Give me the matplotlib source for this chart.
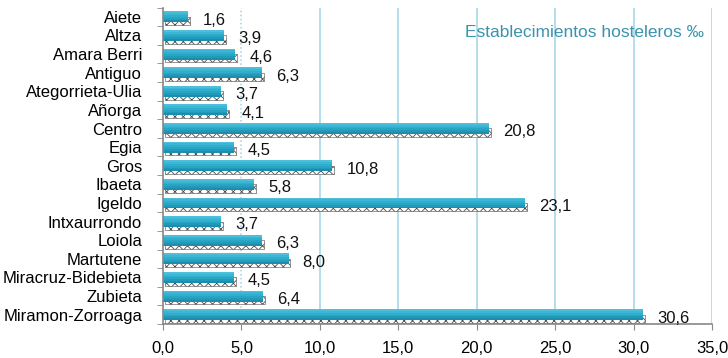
import matplotlib.pyplot as plt
import numpy as np

plt.rcParams['font.family'] = ['Liberation Sans', 'DejaVu Sans']
plt.rcParams['hatch.linewidth'] = 0.6

# data
barrios = ['Aiete', 'Altza', 'Amara Berri', 'Antiguo', 'Ategorrieta-Ulia', 'Añorga',
           'Centro', 'Egia', 'Gros', 'Ibaeta', 'Igeldo', 'Intxaurrondo', 'Loiola',
           'Martutene', 'Miracruz-Bidebieta', 'Zubieta', 'Miramon-Zorroaga']
valores = [1.6, 3.9, 4.6, 6.3, 3.7, 4.1, 20.8, 4.5, 10.8, 5.8, 23.1, 3.7, 6.3, 8.0, 4.5, 6.4, 30.6]
xticks = [0, 5, 10, 15, 20, 25, 30, 35]

fig = plt.figure(figsize=(7.28, 3.58), dpi=100)
ax = fig.add_axes([0.224, 0.095, 0.754, 0.884])

y = np.arange(len(barrios))
h = 0.58

# gridlines (the first one is dotted)
for xv in xticks[1:]:
    ls = ':' if xv == 5 else '-'
    ax.axvline(xv, color='#9fd3e4', linewidth=1.1, linestyle=ls, zorder=0)

# dotted shadow under each bar
ax.barh(y + 0.22, valores, height=0.45, left=0.12, color='white', edgecolor='#4a4a4a',
        hatch='xxxx', linewidth=0.4, zorder=1)

# bars: stacked thin bands, light on top, darker at the bottom
bandas = ['#4cbfdb', '#3cb6d4', '#30aecd', '#28a5c4', '#2199b8', '#1c8dab']
bh = h / len(bandas)
for k, c in enumerate(bandas):
    ax.barh(y - h / 2 + bh * (k + 0.5), valores, height=bh * 1.05, color=c,
            linewidth=0, zorder=2)

for yi, v in zip(y, valores):
    ax.text(v + 0.9, yi + 0.18, f'{v:.1f}'.replace('.', ','), va='center', ha='left',
            fontsize=12, color='#111111', zorder=3)

ax.set_xlim(0, 35)
ax.set_ylim(16.32, -0.5)
ax.set_xticks(xticks)
ax.set_xticklabels([f'{t:.1f}'.replace('.', ',') for t in xticks], fontsize=12)
ax.set_yticks(y)
ax.set_yticklabels(barrios, fontsize=12)
ax.set_yticks(np.arange(len(barrios) + 1) - 0.5, minor=True)
ax.tick_params(axis='y', which='major', length=0, pad=15)
ax.tick_params(axis='y', which='minor', length=4, color='#888888')
ax.tick_params(axis='x', length=4, color='#888888', pad=8)

for s in ['top', 'right']:
    ax.spines[s].set_visible(False)
ax.spines['left'].set_color('#888888')
ax.spines['bottom'].set_color('#888888')
ax.spines['left'].set_linewidth(1.2)
ax.spines['bottom'].set_linewidth(1.2)

ax.text(0.985, 0.92, 'Establecimientos hosteleros ‰', transform=ax.transAxes,
        ha='right', va='center', fontsize=12.5, color='#3b94ad')

fig.savefig('out.png', dpi=100)
